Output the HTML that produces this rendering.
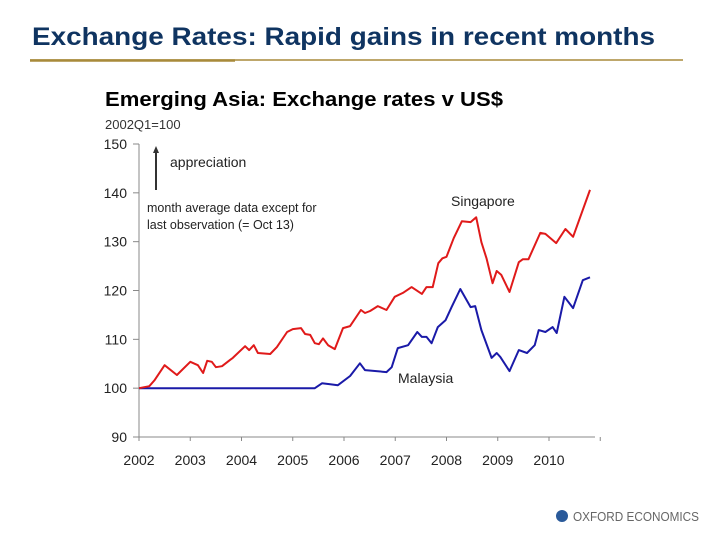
<!DOCTYPE html>
<html><head><meta charset="utf-8"><style>
body{margin:0;background:#fff;width:720px;height:540px;overflow:hidden}
svg{display:block;font-family:"Liberation Sans",sans-serif}
</style></head><body>
<svg width="720" height="540" viewBox="0 0 720 540">
<text x="32" y="45" font-size="25" font-weight="bold" fill="#0f3461" textLength="623" lengthAdjust="spacingAndGlyphs">Exchange Rates: Rapid gains in recent months</text>
<line x1="30" y1="60" x2="683" y2="60" stroke="#a88a3a" stroke-width="1.5"/>
<line x1="30" y1="60.5" x2="235" y2="60.5" stroke="#a88a3a" stroke-width="2.5"/>
<text x="105" y="106" font-size="20" font-weight="bold" fill="#000" textLength="398" lengthAdjust="spacingAndGlyphs">Emerging Asia:  Exchange rates v US$</text>
<text x="105" y="129" font-size="13" fill="#333">2002Q1=100</text>
<g id="axes"></g>
<g id="series"></g>
<line x1="156" y1="190" x2="156" y2="152" stroke="#333" stroke-width="2"/>
<polygon points="156,146 153,153 159,153" fill="#333"/>
<text x="170" y="167" font-size="14" fill="#222">appreciation</text>
<text x="147" y="212" font-size="12.5" fill="#222">month average data except for</text>
<text x="147" y="229" font-size="12.5" fill="#222">last observation (= Oct 13)</text>
<text x="451" y="206" font-size="14" fill="#222">Singapore</text>
<text x="398" y="383" font-size="14" fill="#222">Malaysia</text>
<circle cx="562" cy="516" r="6" fill="#2a5a9a"/>
<text x="573" y="521" font-size="13" fill="#666" textLength="126" lengthAdjust="spacingAndGlyphs">OXFORD ECONOMICS</text>
</svg>
<script>
const yTicks=[90,100,110,120,130,140,150];
const xTicks=[2002,2003,2004,2005,2006,2007,2008,2009,2010];
const sgT=[2002.0,2002.2,2002.3,2002.5,2002.74,2003.0,2003.15,2003.25,2003.33,2003.42,2003.5,2003.62,2003.78,2003.83,2004.07,2004.15,2004.24,2004.32,2004.56,2004.69,2004.89,2005.0,2005.16,2005.24,2005.34,2005.43,2005.51,2005.59,2005.69,2005.82,2005.98,2006.12,2006.33,2006.41,2006.51,2006.66,2006.83,2006.99,2007.15,2007.32,2007.52,2007.61,2007.73,2007.84,2007.92,2008.0,2008.14,2008.3,2008.47,2008.58,2008.68,2008.78,2008.9,2008.98,2009.07,2009.23,2009.41,2009.49,2009.6,2009.83,2009.93,2010.14,2010.32,2010.47,2010.8];
const sgV=[100,100.4,101.6,104.7,102.7,105.4,104.7,103.1,105.6,105.4,104.3,104.5,105.8,106.2,108.6,107.8,108.8,107.2,107.0,108.4,111.5,112.1,112.3,111.1,110.9,109.2,109.0,110.2,108.8,108.0,112.3,112.7,116.0,115.4,115.8,116.8,116.0,118.7,119.5,120.7,119.3,120.7,120.7,125.6,126.6,126.9,130.7,134.2,134.0,135.0,129.9,126.6,121.5,124.0,123.2,119.7,125.8,126.4,126.4,131.8,131.6,129.7,132.6,131.0,140.6];
const myT=[2002.0,2005.43,2005.57,2005.73,2005.88,2006.12,2006.31,2006.41,2006.83,2006.93,2007.05,2007.25,2007.43,2007.52,2007.61,2007.71,2007.83,2007.98,2008.1,2008.27,2008.47,2008.56,2008.68,2008.88,2008.98,2009.05,2009.23,2009.41,2009.57,2009.72,2009.8,2009.93,2010.07,2010.15,2010.3,2010.47,2010.66,2010.8];
const myV=[100,100,101.0,100.8,100.6,102.5,105.1,103.7,103.3,104.3,108.2,108.8,111.5,110.5,110.5,109.2,112.5,113.9,116.6,120.3,116.6,116.8,111.9,106.2,107.2,106.4,103.5,107.8,107.2,108.8,111.9,111.5,112.5,111.3,118.7,116.4,122.1,122.7];
const NS='http://www.w3.org/2000/svg';
const X=t=>139+(t-2002)*51.25;
const Y=v=>437-(v-90)*293/60;
const ax=document.getElementById('axes'), sr=document.getElementById('series');
function mk(tag,attrs,parent){const e=document.createElementNS(NS,tag);for(const k in attrs)e.setAttribute(k,attrs[k]);parent.appendChild(e);return e;}
let e=mk('line',{x1:139,y1:Y(150),x2:139,y2:437,stroke:'#888','stroke-width':1},ax);


e=mk('line',{x1:139,y1:437,x2:595,y2:437,stroke:'#888','stroke-width':1},ax);


yTicks.forEach(v=>{
  const t=mk('line',{x1:133,y1:Y(v),x2:139,y2:Y(v),stroke:'#888'},ax);
  
  
  const l=mk('text',{x:127,y:Y(v)+5,'font-size':14,'text-anchor':'end',fill:'#222'},ax);
  l.textContent=v;
  
  
});
xTicks.concat([2011]).forEach(v=>{
  const t=mk('line',{x1:X(v),y1:437,x2:X(v),y2:441,stroke:'#888'},ax);
  
  
});
xTicks.forEach(v=>{
  const l=mk('text',{x:X(v),y:465,'font-size':14,'text-anchor':'middle',fill:'#222'},ax);
  l.textContent=v;
  
  
});
function line(T,V,color,name){
  const d=T.map((t,i)=>(i?'L':'M')+X(t).toFixed(1)+','+Y(V[i]).toFixed(1)).join('');
  const p=mk('path',{d:d,fill:'none',stroke:color,'stroke-width':2,'stroke-linejoin':'round'},sr);
  
  
}
line(myT,myV,'#1a1aa8','malaysia-line');
line(sgT,sgV,'#e01a1a','singapore-line');
</script>
</body></html>
